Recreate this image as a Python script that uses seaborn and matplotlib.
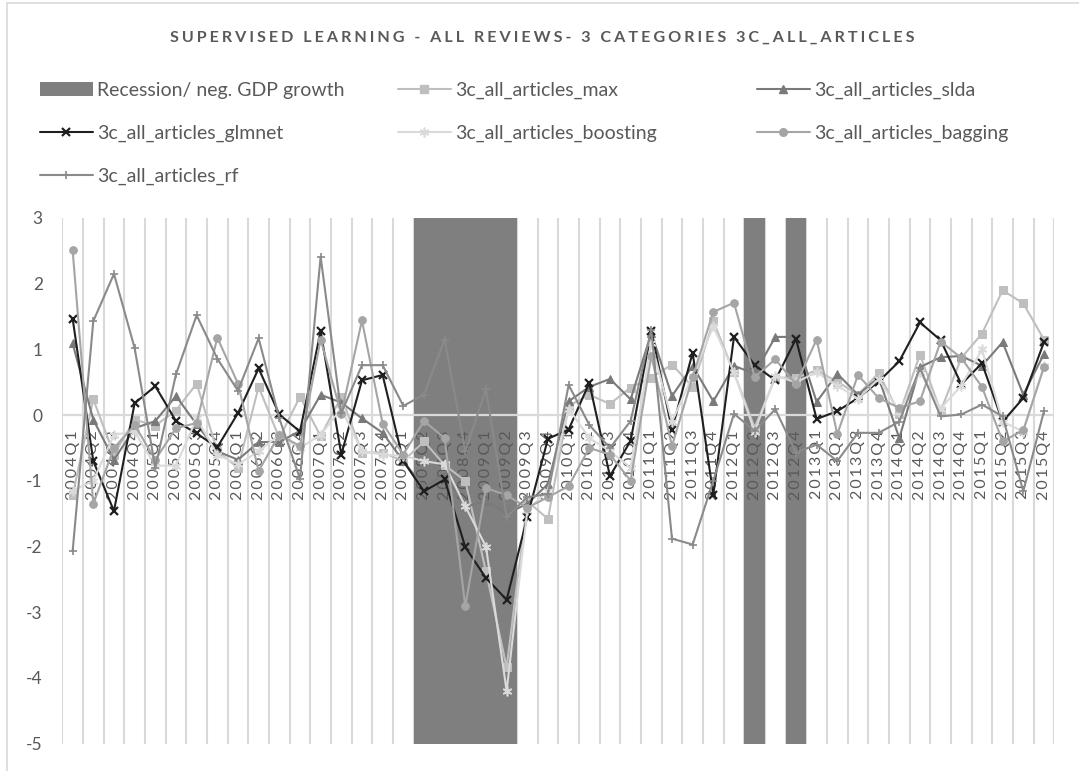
import numpy as np
import matplotlib
matplotlib.use("Agg")
import matplotlib.pyplot as plt
import seaborn as sns
from matplotlib import transforms
from matplotlib.lines import Line2D
from matplotlib.patches import Patch

# Quarters 2004Q1 .. 2015Q4
quarters = [f"{year}Q{q}" for year in range(2004, 2016) for q in range(1, 5)]

# 1 = recession / negative GDP growth quarter
recession = [0, 0, 0, 0, 0, 0, 0, 0, 0, 0, 0, 0,
             0, 0, 0, 0, 0, 1, 1, 1, 1, 1, 0, 0,
             0, 0, 0, 0, 0, 0, 0, 0, 0, 1, 0, 1,
             0, 0, 0, 0, 0, 0, 0, 0, 0, 0, 0, 0]

max_vals = [-1.22, 0.24, -0.60, -0.07, -0.16, 0.07, 0.48, -0.55, -0.80, 0.43, -0.35, 0.28,
            -0.32, 0.28, -0.57, -0.57, -0.70, -0.40, -0.76, -1.00, -2.38, -3.84, -1.31, -1.58,
            0.14, 0.31, 0.17, 0.42, 0.57, 0.77, 0.43, 1.43, 0.65, -0.19, 0.57, 0.57,
            0.68, 0.51, 0.31, 0.64, 0.02, 0.92, 0.06, 0.87, 1.24, 1.90, 1.70, 1.15]

slda_vals = [1.09, -0.07, -0.68, -0.20, -0.09, 0.29, -0.14, -0.55, -0.68, -0.41, -0.41, -0.24,
             0.31, 0.19, -0.05, -0.27, -0.70, -1.10, -0.90, -1.40, -1.30, -1.50, -1.35, -1.05,
             0.21, 0.43, 0.55, 0.24, 1.25, 0.29, 0.75, 0.21, 0.75, 0.63, 1.19, 1.19,
             0.20, 0.63, 0.31, 0.57, -0.35, 0.73, 0.88, 0.90, 0.75, 1.11, 0.31, 0.93]

glmnet_vals = [1.47, -0.70, -1.46, 0.18, 0.44, -0.09, -0.28, -0.49, 0.03, 0.71, 0.01, -0.25,
               1.28, -0.60, 0.53, 0.61, -0.70, -1.16, -0.98, -2.01, -2.48, -2.81, -1.55, -0.36,
               -0.22, 0.49, -0.93, -0.39, 1.28, -0.22, 0.95, -1.21, 1.19, 0.76, 0.53, 1.16,
               -0.06, 0.06, 0.26, 0.51, 0.82, 1.41, 1.14, 0.47, 0.79, -0.10, 0.26, 1.11]

boosting_vals = [-1.15, -1.00, -0.30, -0.25, -0.77, -0.77, -0.05, -0.60, -0.75, -0.55, -0.30, -0.50,
                 -0.30, 0.10, -0.55, -0.60, -0.62, -0.70, -0.75, -1.39, -2.00, -4.20, -1.45, -1.15,
                 0.10, -0.35, -0.55, -0.80, 1.10, -0.10, 0.60, 1.35, 0.65, -0.25, 0.60, 0.50,
                 0.65, 0.45, 0.25, 0.55, 0.05, 0.65, 0.10, 0.45, 1.00, -0.10, -0.25, 0.75]

bagging_vals = [2.51, -1.35, -0.50, -0.15, -0.68, -0.20, -0.12, 1.18, 0.48, -0.85, -0.30, -0.47,
                1.15, 0.02, 1.44, -0.13, -0.60, -0.09, -0.35, -2.91, -1.11, -1.22, -1.41, -1.25,
                -1.08, -0.50, -0.60, -1.00, 0.90, -0.47, 0.58, 1.57, 1.71, 0.58, 0.85, 0.47,
                1.15, -0.29, 0.61, 0.26, 0.11, 0.21, 1.12, 0.87, 0.43, -0.40, -0.23, 0.73]

rf_vals = [-2.07, 1.43, 2.15, 1.02, -0.80, 0.62, 1.52, 0.86, 0.37, 1.17, -0.05, -0.97,
           2.41, 0.03, 0.76, 0.76, 0.14, 0.31, 1.15, -0.55, 0.39, -1.55, -1.25, -1.20,
           0.46, -0.15, -0.50, -0.09, 1.30, -1.88, -1.97, -1.00, 0.02, -0.24, 0.09, -0.57,
           -0.45, -0.70, -0.27, -0.27, -0.10, 0.72, -0.02, 0.01, 0.16, -0.02, -1.16, 0.06]

y_ticks = [-5, -4, -3, -2, -1, 0, 1, 2, 3]

title = "SUPERVISED LEARNING - ALL REVIEWS- 3 CATEGORIES 3C_ALL_ARTICLES"
text_grey = "#595959"
grid_grey = "#d9d9d9"
thin = "\u2009"
wide_gap = "\u2009\u200a"

series = [
    ("3c_all_articles_max", max_vals, dict(color="#bfbfbf", marker="s", markersize=5.5)),
    ("3c_all_articles_slda", slda_vals, dict(color="#7a7a7a", marker="^", markersize=5.5)),
    ("3c_all_articles_glmnet", glmnet_vals, dict(color="#1f1f1f", marker="x", markersize=5.5,
                                                  markeredgewidth=1.6)),
    ("3c_all_articles_boosting", boosting_vals, dict(color="#dadada", marker=(6, 2, 0), markersize=7,
                                                      markeredgewidth=1.2)),
    ("3c_all_articles_bagging", bagging_vals, dict(color="#a5a5a5", marker="o", markersize=5.5)),
    ("3c_all_articles_rf", rf_vals, dict(color="#8a8a8a", marker="+", markersize=5.5,
                                         markeredgewidth=1.2)),
]

sns.set_theme(style="white")
plt.rcParams["font.family"] = ["Lato", "DejaVu Sans"]

W, H = 1079, 771
fig = plt.figure(figsize=(W / 100, H / 100), dpi=100)
fig.patch.set_facecolor("white")
ax = fig.add_axes([62.3 / W, 1 - 743.6 / H, (1054.3 - 62.3) / W, (743.6 - 218) / H])

x = np.arange(len(quarters))
rec_mask = np.array(recession) == 1
ymin, ymax = min(y_ticks), max(y_ticks)

# recession shading as full-height columns
ax.bar(x[rec_mask], np.full(rec_mask.sum(), float(ymax - ymin)), bottom=ymin, width=1.0,
       color="#7f7f7f", linewidth=0, zorder=1)

# horizontal category axis at zero
ax.axhline(0, color=grid_grey, lw=1.6, zorder=1.5)

for name, vals, style in series:
    sns.lineplot(x=x, y=vals, ax=ax, linewidth=1.5, legend=False, zorder=3,
                 markeredgecolor=style["color"], **style)

ax.set_xlim(-0.5, len(quarters) - 0.5)
ax.set_ylim(ymin, ymax)

# vertical gridlines between quarters
ax.set_xticks(np.arange(-0.5, len(quarters), 1.0), minor=True)
ax.set_xticks([])
ax.set_axisbelow(True)
ax.grid(which="minor", axis="x", color=grid_grey, lw=1.5)
ax.grid(which="major", axis="y", visible=False)
ax.set_yticks(y_ticks)
ax.set_yticklabels([str(v) for v in y_ticks])
ax.tick_params(axis="y", length=0, pad=14, labelsize=12.5, labelcolor=text_grey)
ax.tick_params(axis="x", which="both", length=0, labelbottom=False)
for sp in ax.spines.values():
    sp.set_visible(False)
ax.set_xlabel("")
ax.set_ylabel("")

# quarter labels hanging below the zero line
lab_tr = transforms.offset_copy(ax.transData, fig=fig, x=0, y=-15, units="dots")
for xi, q in zip(x, quarters):
    ax.text(xi, 0, thin.join(q), rotation=90, ha="center", va="top", transform=lab_tr,
            fontsize=11.5, color=text_grey, zorder=2)

# title
fig.text(542 / W, 1 - 38 / H, wide_gap.join(title), ha="center", va="center", fontsize=11.6,
         fontweight="bold", color=text_grey)

# legend in three fixed columns
handles = {"Recession/ neg. GDP growth": Patch(facecolor="#7f7f7f", edgecolor="none")}
for name, vals, style in series:
    handles[name] = Line2D([0], [0], linewidth=1.5, markeredgecolor=style["color"], **style)

columns = [
    (40, ["Recession/ neg. GDP growth", "3c_all_articles_glmnet", "3c_all_articles_rf"]),
    (398, ["3c_all_articles_max", "3c_all_articles_boosting"]),
    (757, ["3c_all_articles_slda", "3c_all_articles_bagging"]),
]
for xpix, names in columns:
    fig.legend([handles[n] for n in names], names, loc="upper left",
               bbox_to_anchor=(xpix / W, 1 - 82 / H), bbox_transform=fig.transFigure,
               frameon=False, borderpad=0, borderaxespad=0, handlelength=2.7,
               handletextpad=0.22, labelspacing=1.32, fontsize=14, labelcolor=text_grey)

# chart-area border
fig.add_artist(Line2D([7 / W, 7 / W], [0, 1 - 3 / H], transform=fig.transFigure,
                      color=grid_grey, lw=1.2))
fig.add_artist(Line2D([7 / W, 1], [1 - 3 / H, 1 - 3 / H], transform=fig.transFigure,
                      color=grid_grey, lw=1.2))

fig.savefig("out.png", dpi=100)
